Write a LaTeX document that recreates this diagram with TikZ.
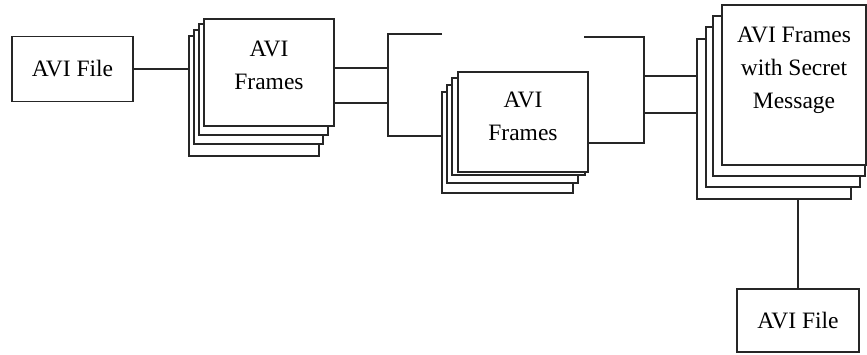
\documentclass[tikz,border=0pt]{standalone}
\usepackage{fontspec}
\setmainfont{Liberation Serif}
\usetikzlibrary{positioning}
\tikzstyle{file}=[draw=black!85,fill=white,line width=1.3pt,minimum width=121pt,minimum height=65pt,inner sep=0pt,font=\fontsize{23.5}{33}\selectfont]
\tikzstyle{frame}=[draw=black!85,fill=white,line width=1.3pt,anchor=north west,inner sep=0pt,outer sep=0pt]
\tikzstyle{caption}=[align=center,inner sep=0pt,font=\fontsize{23.5}{33}\selectfont]
\tikzstyle{wire}=[draw=black!85,line width=1.3pt]

\begin{document}
\begin{tikzpicture}[x=1pt,y=-1pt]
\useasboundingbox (0,0) rectangle (867,354);
% files
  \node[file] (av1) at (72.5,69) {AVI File};
  \node[file,minimum width=122pt,minimum height=63pt] (av2) at (798,320.5) {AVI File};
% first frames
  \node[frame,minimum width=130pt,minimum height=120pt] (fr1d) at (189,36) {};
  \node[frame,minimum width=129pt,minimum height=114pt] (fr1c) at (194,30) {};
  \node[frame,minimum width=129pt,minimum height=111pt] (fr1b) at (199,24) {};
  \node[frame,minimum width=130pt,minimum height=107pt] (fr1a) at (204,19) {};
  \node[caption,below=22pt of fr1a.north] (tx1) {AVI\\Frames};
% second frames
  \node[frame,minimum width=131pt,minimum height=101pt] (fr2d) at (442,92) {};
  \node[frame,minimum width=131pt,minimum height=98pt] (fr2c) at (447,85) {};
  \node[frame,minimum width=133pt,minimum height=97pt] (fr2b) at (452,78) {};
  \node[frame,minimum width=130pt,minimum height=100pt] (fr2a) at (458,72) {};
  \node[caption,below=20pt of fr2a.north] (tx2) {AVI\\Frames};
% frames with message
  \node[frame,minimum width=154pt,minimum height=160pt] (fr3d) at (697,39) {};
  \node[frame,minimum width=154pt,minimum height=160pt] (fr3c) at (706,27) {};
  \node[frame,minimum width=152pt,minimum height=160pt] (fr3b) at (713,16) {};
  \node[frame,minimum width=144pt,minimum height=160pt] (fr3a) at (722,5) {};
  \node[caption,below=22pt of fr3a.north] (tx3) {AVI Frames\\with Secret\\Message};
% bars
  \coordinate (bar1top) at (388,34);
  \coordinate (bar1bot) at (388,136);
  \coordinate (bar1u) at (388,68);
  \coordinate (bar1l) at (388,103);
  \coordinate (end1) at (442,34);
  \coordinate (bar2top) at (644,37);
  \coordinate (bar2bot) at (644,143);
  \coordinate (bar2u) at (644,76);
  \coordinate (bar2l) at (644,113);
  \coordinate (end2) at (584,37);
% connectors
  \draw[wire] (av1.east) -- (av1.east -| fr1d.west);
  \draw[wire] (fr1a.east |- bar1u) -- (bar1u);
  \draw[wire] (fr1a.east |- bar1l) -- (bar1l);
  \draw[wire] (end1) -- (bar1top) -- (bar1bot) -- (bar1bot -| fr2d.west);
  \draw[wire] (end2) -- (bar2top) -- (bar2bot) -- (fr2a.east |- bar2bot);
  \draw[wire] (bar2u) -- (bar2u -| fr3d.west);
  \draw[wire] (bar2l) -- (bar2l -| fr3d.west);
  \draw[wire] (av2.north) -- (av2.north |- fr3d.south);
\end{tikzpicture}
\end{document}
